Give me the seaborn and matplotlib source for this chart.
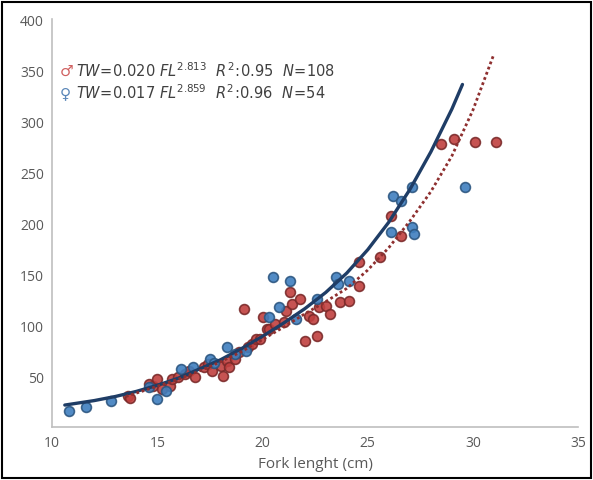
import numpy as np
import pandas as pd
import matplotlib
import matplotlib.pyplot as plt
import seaborn as sns

plt.switch_backend('Agg')

# female (blue) observations: fork length (cm), total weight (g)
female_fl = [10.8, 11.6, 12.8, 14.6, 15.0, 15.4, 16.1, 16.7, 17.5, 17.7, 18.3, 18.7, 19.2,
             20.3, 20.5, 20.8, 21.3, 21.6, 22.6, 23.5, 23.6, 24.1,
             26.1, 26.2, 26.6, 27.1, 27.1, 27.2, 29.6]
female_tw = [15.7, 19.6, 25.5, 39.2, 27.5, 35.3, 56.9, 58.8, 66.7, 62.7, 78.4, 71.6, 74.5,
             107.8, 147.0, 117.6, 143.0, 105.9, 125.5, 147.0, 140.0, 143.0,
             191.2, 226.5, 221.6, 235.3, 196.0, 189.0, 235.3]

# male (red) observations
male_fl = [13.6, 13.7, 14.6, 14.8, 15.0, 15.2, 15.6, 15.7, 16.0, 16.3, 16.5, 16.8,
           17.2, 17.4, 17.6, 18.0, 18.1, 18.3, 18.4, 18.7, 18.9, 19.1, 19.3, 19.5,
           19.7, 19.9, 20.0, 20.2, 20.3, 20.6, 21.0, 21.1, 21.3, 21.4, 21.8, 22.0,
           22.2, 22.4, 22.6, 22.7, 23.0, 23.2, 23.7, 24.1, 24.6, 24.6, 25.6, 26.1,
           26.6, 28.5, 29.1, 30.1, 31.1]
male_tw = [30.4, 28.4, 42.2, 40.2, 47.0, 37.3, 40.2, 47.0, 49.0, 52.0, 55.0, 49.0,
           58.8, 61.8, 55.0, 59.8, 50.0, 64.7, 58.8, 66.7, 73.5, 115.7, 78.4, 81.4,
           86.3, 86.3, 107.8, 96.0, 96.0, 101.0, 103.0, 113.7, 132.4, 120.6, 125.5, 84.3,
           108.8, 105.9, 89.2, 117.6, 118.6, 110.8, 122.5, 123.5, 138.2, 161.8, 166.7, 206.9,
           187.3, 277.5, 282.4, 279.4, 279.4]

# trend lines
female_curve_fl = [10.6, 12.0, 13.0, 14.0, 15.0, 16.0, 17.0, 18.0, 19.0, 20.0, 21.0, 22.0,
                   23.0, 24.0, 25.0, 26.0, 27.0, 28.0, 29.0, 29.5]
female_curve_tw = [21.6, 26.0, 30.0, 35.0, 41.0, 48.0, 57.0, 66.0, 77.0, 89.0, 102.0, 116.0,
                   132.0, 151.0, 174.0, 201.0, 233.0, 270.0, 312.0, 336.0]
male_curve_fl = [13.5, 15.0, 16.0, 17.0, 18.0, 19.0, 20.0, 21.0, 22.0, 23.0, 24.0, 25.0,
                 26.0, 27.0, 28.0, 29.0, 30.0, 31.0]
male_curve_tw = [30.0, 40.0, 47.0, 55.0, 64.0, 74.0, 86.0, 98.0, 111.0, 123.0, 136.0, 154.0,
                 176.0, 202.0, 231.0, 266.0, 311.0, 366.0]

x_ticks = [10, 15, 20, 25, 30, 35]
y_ticks = [50, 100, 150, 200, 250, 300, 350, 400]

sns.set_theme(style='white')
plt.rcParams['font.family'] = ['Open Sans', 'DejaVu Sans']

fig = plt.figure(figsize=(5.93, 4.81), dpi=100)
ax = fig.add_axes([0.088, 0.110, 0.887, 0.848])

red = '#c0403f'
blue = '#3f7fbf'

sns.scatterplot(x=male_fl, y=male_tw, ax=ax, color=red, edgecolor='#7a2a2a',
                linewidth=1.2, s=50, alpha=0.9, zorder=3)
sns.scatterplot(x=female_fl, y=female_tw, ax=ax, color=blue, edgecolor='#2c5680',
                linewidth=1.2, s=50, alpha=0.9, zorder=3)

sns.lineplot(x=female_curve_fl, y=female_curve_tw, ax=ax, color='#1f3d66',
             linewidth=2.4, zorder=4)
sns.lineplot(x=male_curve_fl, y=male_curve_tw, ax=ax, color='#8e2f2f',
             linewidth=2.0, linestyle=(0, (1, 1)), zorder=4)

ax.set_xlim(10, 35)
ax.set_ylim(0, 400)
ax.set_xticks(x_ticks)
ax.set_yticks(y_ticks)
ax.tick_params(axis='both', length=0, labelsize=10, labelcolor='#595959', pad=6)
for side in ['top', 'right']:
    ax.spines[side].set_visible(False)
for side in ['left', 'bottom']:
    ax.spines[side].set_color('#bfbfbf')
    ax.spines[side].set_linewidth(1.2)
ax.set_xlabel('Fork lenght (cm)', fontsize=11, color='#595959', labelpad=4)
ax.set_ylabel('')

# equations legend
ax.text(0.015, 0.875, '\u2642', transform=ax.transAxes, color='#d06060', fontsize=11,
        family=['DejaVu Sans'], va='center')
ax.text(0.045, 0.875, r'$TW\!=\!0.020\ FL^{2.813}\ \ R^{2}\!:\!0.95\ \ N\!=\!108$',
        transform=ax.transAxes, color='#404040', fontsize=10.5, va='center')
ax.text(0.015, 0.82, '\u2640', transform=ax.transAxes, color='#5a86b8', fontsize=11,
        family=['DejaVu Sans'], va='center')
ax.text(0.045, 0.82, r'$TW\!=\!0.017\ FL^{2.859}\ \ R^{2}\!:\!0.96\ \ N\!=\!54$',
        transform=ax.transAxes, color='#404040', fontsize=10.5, va='center')

# outer frame of the picture
fig.patches.append(matplotlib.patches.Rectangle((0.004, 0.004), 0.992, 0.990,
                                                transform=fig.transFigure, fill=False,
                                                edgecolor='black', linewidth=1.5))

plt.savefig('out.png', dpi=100)
plt.close('all')
